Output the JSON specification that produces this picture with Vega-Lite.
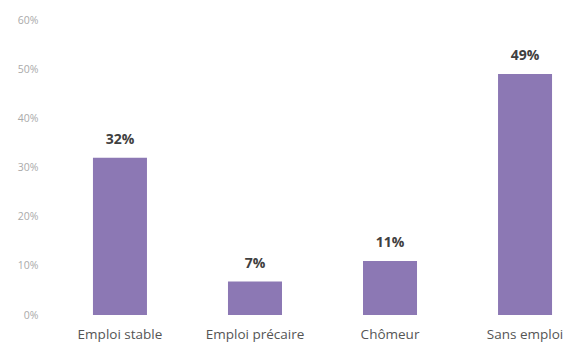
{
  "$schema": "https://vega.github.io/schema/vega-lite/v6.json",
  "autosize": {"type": "none"},
  "padding": {"left": 75, "top": 20, "right": 0, "bottom": 30},
  "width": 495,
  "height": 295,
  "background": "white",
  "config": {"view": {"stroke": null}, "font": "Open Sans"},
  "data": {"values": [
    {"cat": "Emploi stable", "v": 0.32, "label": "32%"},
    {"cat": "Emploi précaire", "v": 0.068, "label": "7%"},
    {"cat": "Chômeur", "v": 0.11, "label": "11%"},
    {"cat": "Sans emploi", "v": 0.49, "label": "49%"}
  ]},
  "encoding": {
    "x": {"field": "cat", "type": "nominal", "sort": null,
      "scale": {"paddingInner": 0.6, "paddingOuter": 0.133},
      "axis": {"title": null, "labelAngle": 0, "domain": false, "ticks": false, "labelPadding": 12, "labelFontSize": 13.5, "labelColor": "#555555", "labelFont": "Open Sans"}},
    "y": {"field": "v", "type": "quantitative",
      "scale": {"domain": [0, 0.6], "nice": false},
      "axis": {"title": null, "format": ".0%", "values": [0, 0.1, 0.2, 0.3, 0.4, 0.5, 0.6], "domain": false, "ticks": false, "grid": false, "labelPadding": 37, "labelFontSize": 10.5, "labelColor": "#aaaaaa"}}
  },
  "layer": [
    {"mark": {"type": "bar", "color": "#8c78b4"}},
    {"mark": {"type": "text", "dy": -11, "fontWeight": "bold", "fontSize": 14, "color": "#404040", "baseline": "bottom"},
     "encoding": {"text": {"field": "label"}}}
  ]
}
